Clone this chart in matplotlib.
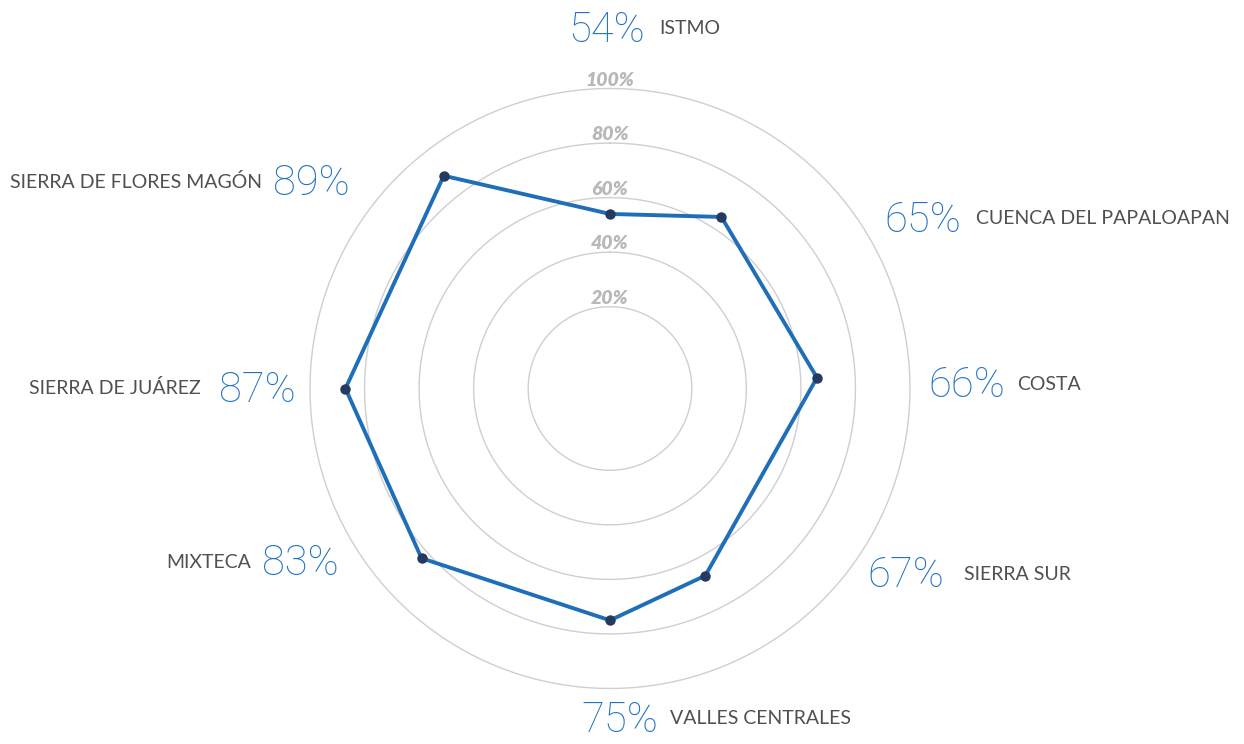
import matplotlib.pyplot as plt
import numpy as np

# data
regions = ["ISTMO", "CUENCA DEL PAPALOAPAN", "COSTA", "SIERRA SUR",
           "VALLES CENTRALES", "MIXTECA", "SIERRA DE JUÁREZ",
           "SIERRA DE FLORES MAGÓN"]
values = [54, 65, 66, 67, 75, 83, 87, 89]
# direction of each region's spoke in the original (degrees, clockwise from top)
angles_deg = [0, 33, 87, 153, 180, 228, 270, 322]
ring_ticks = [20, 40, 60, 80, 100]

# label layout in pixels: (number left x, name x, name on left side?, center y)
label_layout = [
    (568, 659, False, 27),
    (884, 976, False, 217),
    (928, 1017, False, 382),
    (867, 964, False, 572),
    (581, 670, False, 717),
    (262, 251, True, 560),
    (219, 201, True, 387),
    (273, 262, True, 180),
]

W, H = 1244, 744
BLUE = "#2272c3"
LINE = "#1f6fb8"
DOT = "#243a5e"
GREY_TXT = "#505050"
RING = "#cfcfcf"
TICK = "#b8b8b8"

plt.rcParams['font.family'] = ['Lato', 'DejaVu Sans']

fig = plt.figure(figsize=(W / 100, H / 100), dpi=100)

# polar axes: center at (610, 388.5) px, 100% ring radius 300 px
cx, cy, rad = 610, 388.5, 300
ax = fig.add_axes([(cx - rad) / W, (H - cy - rad) / H, 2 * rad / W, 2 * rad / H],
                  projection='polar')
ax.set_theta_zero_location('N')
ax.set_theta_direction(-1)
ax.set_ylim(-10, 100)
ax.set_yticks([])
ax.set_xticks([])
ax.grid(False)
ax.spines['polar'].set_visible(False)
ax.patch.set_alpha(0)

# rings
t = np.linspace(0, 2 * np.pi, 400)
for r in ring_ticks:
    ax.plot(t, np.full_like(t, r), color=RING, lw=1.0, zorder=1, clip_on=False)
    ax.text(0, r, f"{r}%", ha='center', va='bottom', color=TICK,
            fontsize=14, fontweight='heavy', fontstyle='italic', zorder=2)

theta = np.deg2rad(angles_deg)
th_closed = np.append(theta, theta[0])
v_closed = np.append(values, values[0])
ax.plot(th_closed, v_closed, color=LINE, lw=2.8, zorder=3, solid_joinstyle='miter')
ax.plot(theta, values, 'o', color=DOT, ms=6.5, zorder=4)

# labels
for name, val, (nx, mx, left, yc) in zip(regions, values, label_layout):
    fig.text(nx / W, 1 - (yc + 15) / H, f"{val}%", ha='left', va='baseline',
             color=BLUE, fontsize=30, fontweight='light', family=['Roboto', 'DejaVu Sans'])
    fig.text(mx / W, 1 - (yc + 7.5) / H, name, ha='right' if left else 'left',
             va='baseline', color=GREY_TXT, fontsize=14)

fig.savefig("out.png", dpi=100, facecolor='white')
